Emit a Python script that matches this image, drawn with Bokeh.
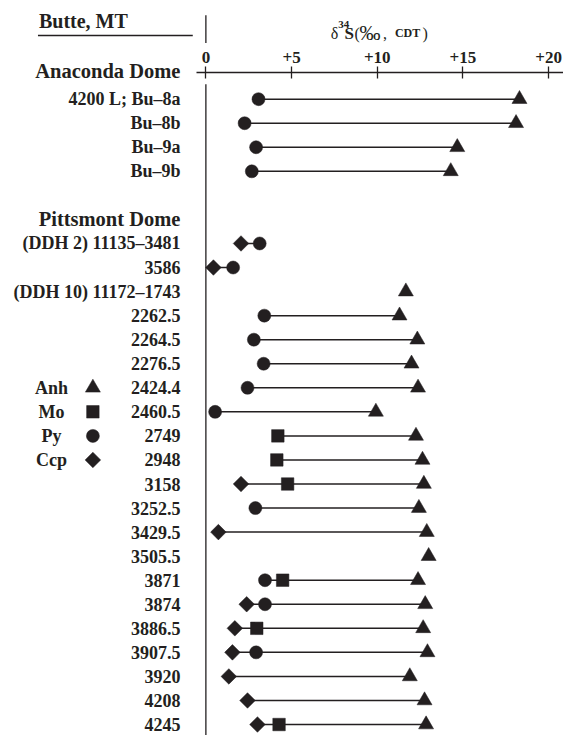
import math
from bokeh.plotting import figure
from bokeh.models import (Range1d, LinearAxis, FixedTicker, CustomJSTickFormatter,
                          ColumnDataSource)
from bokeh.core.properties import value
from bokeh.embed import file_html
from bokeh.resources import INLINE

nan = float("nan")

# ---------------- data ----------------
site = "Butte, MT"
groups = ["Anaconda Dome", "Pittsmont Dome"]
anaconda_samples = ["4200 L; Bu–8a", "Bu–8b", "Bu–9a", "Bu–9b"]
pittsmont_samples = ["(DDH 2) 11135–3481", "3586", "(DDH 10) 11172–1743",
                     "2262.5", "2264.5", "2276.5", "2424.4", "2460.5", "2749",
                     "2948", "3158", "3252.5", "3429.5", "3505.5", "3871",
                     "3874", "3886.5", "3907.5", "3920", "4208", "4245"]

# d34S values (permil, CDT) for each sample, in the order above
anh = [18.3, 18.1, 14.67, 14.29,
       nan, nan, 11.67, 11.3, 12.34, 12.0, 12.38, 9.92, 12.26, 12.64, 12.72,
       12.43, 12.89, 13.0, 12.38, 12.8, 12.68, 12.93, 11.9, 12.76, 12.85]
mo = [nan, nan, nan, nan,
      nan, nan, nan, nan, nan, nan, nan, nan, 4.2, 4.14, 4.77,
      nan, nan, nan, 4.48, nan, 2.97, nan, nan, nan, 4.27]
py = [3.07, 2.26, 2.93, 2.68,
      3.14, 1.59, nan, 3.41, 2.80, 3.37, 2.43, 0.54, nan, nan, nan,
      2.89, nan, nan, 3.45, 3.45, nan, 2.93, nan, nan, nan]
ccp = [nan, nan, nan, nan,
       2.05, 0.44, nan, nan, nan, nan, nan, nan, nan, nan, 2.05,
       nan, 0.73, nan, nan, 2.38, 1.69, 1.55, 1.34, 2.43, 3.01]

mineral_names = ["Anh", "Mo", "Py", "Ccp"]
x_ticks = [0, 5, 10, 15, 20]

# ---------------- layout ----------------
INK = "#231f20"
FONT = "Liberation Serif"
W, H = 563, 735
PX0, PXU = 208.3, 17.38          # reference-pixel x of zero, px per permil
PY0, PYU = 100.0, 24.38          # reference-pixel y of first row, px per row
REF_W, REF_H = 571, 745          # reference extent mapped onto the figure


def dx(px):
    return (px - PX0) / PXU


def dy(py_):
    return (py_ - PY0) / PYU


samples = anaconda_samples + pittsmont_samples
rows = list(range(len(anaconda_samples))) + \
    [len(anaconda_samples) + 2 + i for i in range(len(pittsmont_samples))]
header_rows = [dy(71), len(anaconda_samples) + 1]

p = figure(width=W, height=H, output_backend="svg", toolbar_location=None,
           x_axis_location=None, y_axis_location=None, min_border=0,
           x_range=Range1d(dx(0), dx(REF_W)), y_range=Range1d(dy(REF_H), dy(0)),
           outline_line_color=None, background_fill_color="white")
p.grid.visible = False

# axis
axis_row = dy(73.3)
ax = LinearAxis(fixed_location=axis_row, ticker=FixedTicker(ticks=x_ticks),
                formatter=CustomJSTickFormatter(
                    code="return tick > 0 ? '+' + tick.toFixed(0) : tick.toFixed(0);"),
                bounds=(dx(199), dx(REF_W)))
ax.axis_line_color = INK
ax.axis_line_width = 1.3
ax.major_tick_line_color = INK
ax.major_tick_line_width = 1.3
ax.major_tick_in = 6
ax.major_tick_out = 6
ax.minor_tick_line_color = None
ax.major_label_text_font = FONT
ax.major_label_text_font_style = "bold"
ax.major_label_text_font_size = "17px"
ax.major_label_text_color = INK
ax.major_label_standoff = 4
p.add_layout(ax, "above")

# zero reference line (broken around the axis labels)
p.segment(x0=[0, 0], y0=[dy(15), dy(85)], x1=[0, 0], y1=[dy(43), dy(REF_H)],
          line_color=INK, line_width=1.3)

# site title and underline
p.text(x=[dx(39)], y=[dy(21)], text=[site], text_font=value(FONT),
       text_font_style="bold", text_font_size="20px", text_color=INK,
       text_align="left", text_baseline="middle")
p.segment(x0=[dx(38)], y0=[dy(35.5)], x1=[dx(195)], y1=[dy(35.5)],
          line_color=INK, line_width=1.3)

# axis title  d34S (‰, CDT)
base = dy(33.3)
title_parts = [("δ", 335, base, "16px", "normal"),
               ("34", 342.5, dy(24.5), "11px", "bold"),
               ("S", 349, base, "17px", "bold"),
               ("(", 359, base, "16px", "normal"),
               ("‰", 364, base, "21px", "normal"),
               (",", 388, base, "16px", "normal"),
               ("CDT", 400, base, "12px", "bold"),
               (")", 428, base, "16px", "normal")]
for t, xp, yb, fs, st in title_parts:
    p.text(x=[dx(xp)], y=[yb], text=[t], text_font=value(FONT),
           text_font_style=st, text_font_size=fs, text_color=INK,
           text_align="left", text_baseline="alphabetic")

LABEL_X = dx(182.5)
# group headers
p.text(x=[LABEL_X] * 2, y=header_rows, text=groups, text_font=value(FONT),
       text_font_style="bold", text_font_size="20.5px", text_color=INK,
       text_align="right", text_baseline="middle")
# sample labels
p.text(x=[LABEL_X] * len(samples), y=rows, text=samples, text_font=value(FONT),
       text_font_style="bold", text_font_size="18px", text_color=INK,
       text_align="right", text_baseline="middle")

# connecting lines (min to max within each sample)
seg = dict(x0=[], x1=[], y=[])
for i, r in enumerate(rows):
    vals = [v for v in (anh[i], mo[i], py[i], ccp[i]) if not math.isnan(v)]
    if len(vals) > 1:
        seg["x0"].append(min(vals))
        seg["x1"].append(max(vals))
        seg["y"].append(r)
p.segment(x0="x0", y0="y", x1="x1", y1="y", source=ColumnDataSource(seg),
          line_color=INK, line_width=1.5)

styles = {"Anh": dict(marker="triangle", size=15, angle=0),
          "Mo": dict(marker="square", size=12.5, angle=0),
          "Py": dict(marker="circle", size=13, angle=0),
          "Ccp": dict(marker="square", size=11, angle=math.pi / 4)}

for name, vals in zip(mineral_names, [anh, mo, py, ccp]):
    xs = [v for v in vals if not math.isnan(v)]
    ys = [r for v, r in zip(vals, rows) if not math.isnan(v)]
    st = styles[name]
    p.scatter(x=xs, y=ys, marker=st["marker"], size=st["size"], angle=st["angle"],
              fill_color=INK, line_color=INK, line_width=0.5)

# legend (label left of symbol)
leg_rows = [rows[len(anaconda_samples) + 6 + k] for k in range(4)]
p.text(x=[dx(51.7)] * 4, y=leg_rows, text=mineral_names, text_font=value(FONT),
       text_font_style="bold", text_font_size="18px", text_color=INK,
       text_align="center", text_baseline="middle")
for k, name in enumerate(mineral_names):
    st = styles[name]
    p.scatter(x=[dx(93.7)], y=[leg_rows[k]], marker=st["marker"], size=st["size"],
              angle=st["angle"], fill_color=INK, line_color=INK, line_width=0.5)

open("out.html", "w").write(file_html(p, INLINE))
